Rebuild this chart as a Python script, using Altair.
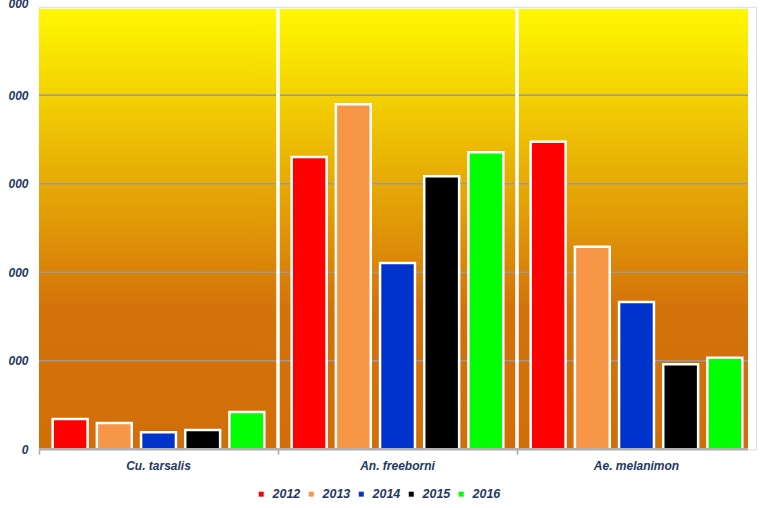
import altair as alt
import pandas as pd

# Mosquito counts per species and year
species = ["Cu. tarsalis", "An. freeborni", "Ae. melanimon"]
years = ["2012", "2013", "2014", "2015", "2016"]
counts_2012 = [342, 3303, 3476]
counts_2013 = [297, 3898, 2289]
counts_2014 = [192, 2105, 1664]
counts_2015 = [218, 3085, 960]
counts_2016 = [421, 3356, 1035]
year_colors = ["#FF0000", "#F79646", "#0033CC", "#000000", "#00FF00"]
y_ticks = [0, 1000, 2000, 3000, 4000, 5000]
grid_values = [1000, 2000, 3000, 4000]

series = [counts_2012, counts_2013, counts_2014, counts_2015, counts_2016]
rows = []
for yr, vals in zip(years, series):
    for sp, v in zip(species, vals):
        rows.append({"species": sp, "year": yr, "value": v})
bars_df = pd.DataFrame(rows)
grid_df = pd.DataFrame({"value": grid_values})
sep_df = pd.DataFrame({"species": species[1:]})
base_df = pd.DataFrame({"value": [0]})

W, H = 717, 442.5
PLOT_W = 709
TOP_GAP = 2.2
FONT = "Liberation Sans, Arial"
NAVY = "#1F3864"

xscale = alt.Scale(domain=species, paddingInner=0, paddingOuter=0)
yscale = alt.Scale(domain=[0, 5000], nice=False, zero=True)

xaxis = alt.Axis(
    title=None, bandPosition=0, labelAngle=0,
    domain=False, grid=False, ticks=True, tickSize=5, tickColor="#ABABAB",
    tickWidth=1.5, labelPadding=6, labelFont=FONT, labelFontSize=12,
    labelFontWeight="bold", labelFontStyle="italic", labelColor=NAVY,
)
yaxis = alt.Axis(
    title=None, values=y_ticks, format="d",
    labelExpr="datum.value ? slice(datum.label, 1) : datum.label",
    labelOffset={"condition": {"test": "datum.value >= 5000", "value": -3.5}, "value": 0},
    grid=False, ticks=False, domain=True, domainColor="#F0D9A8", domainWidth=1,
    labelPadding=11, labelFont=FONT, labelFontSize=12, labelFontWeight="bold",
    labelFontStyle="italic", labelColor=NAVY,
)

gradient = {
    "gradient": "linear", "x1": 0, "y1": 0, "x2": 0, "y2": 1,
    "stops": [
        {"offset": 0.0, "color": "#FFF800"},
        {"offset": 0.68, "color": "#D4720A"},
        {"offset": 1.0, "color": "#D16E08"},
    ],
}

background = alt.Chart(base_df).mark_rect(color=gradient).encode(
    x=alt.value(0), x2=alt.value(PLOT_W),
    y=alt.value(TOP_GAP), y2=alt.value(H),
)

gridlines = alt.Chart(grid_df).mark_rule(color="#9A9A9A", strokeWidth=1.5).encode(
    y=alt.Y("value:Q", scale=yscale, axis=yaxis),
    x=alt.value(0), x2=alt.value(PLOT_W),
)

separators = alt.Chart(sep_df).mark_rule(color="white", strokeWidth=3.5).encode(
    x=alt.X("species:N", scale=xscale, axis=xaxis, sort=species, bandPosition=0),
    y=alt.value(TOP_GAP), y2=alt.value(H),
)

bars = alt.Chart(bars_df).mark_bar(stroke="white", strokeWidth=2.5).encode(
    x=alt.X("species:N", scale=xscale, axis=xaxis, sort=species),
    xOffset=alt.XOffset("year:N", sort=years,
                        scale=alt.Scale(paddingInner=0.21, paddingOuter=0.31)),
    y=alt.Y("value:Q", scale=yscale, axis=yaxis),
    color=alt.Color(
        "year:N", sort=years,
        scale=alt.Scale(domain=years, range=year_colors),
        legend=alt.Legend(
            title=None, orient="none", direction="horizontal",
            legendX=216, legendY=481, symbolType="square", symbolSize=25,
            symbolStrokeWidth=0, labelFont=FONT, labelFontSize=12.5,
            labelFontWeight="bold", labelFontStyle="italic", labelColor=NAVY,
            labelOffset=5, columnPadding=4, padding=0,
        ),
    ),
)

baseline = alt.Chart(base_df).mark_rule(color="#B0B0B0", strokeWidth=2.5).encode(
    y=alt.Y("value:Q", scale=yscale, axis=yaxis),
    x=alt.value(0), x2=alt.value(PLOT_W),
)

chart = (
    alt.layer(background, gridlines, separators, bars, baseline)
    .properties(
        width=W, height=H,
        autosize=alt.AutoSizeParams(type="none"),
        padding={"left": 39, "top": 6.8, "right": 5, "bottom": 50},
    )
    .configure_view(stroke=None)
    .configure(background="white")
)

chart.save("out.html", embed_options={"renderer": "svg", "actions": False})
